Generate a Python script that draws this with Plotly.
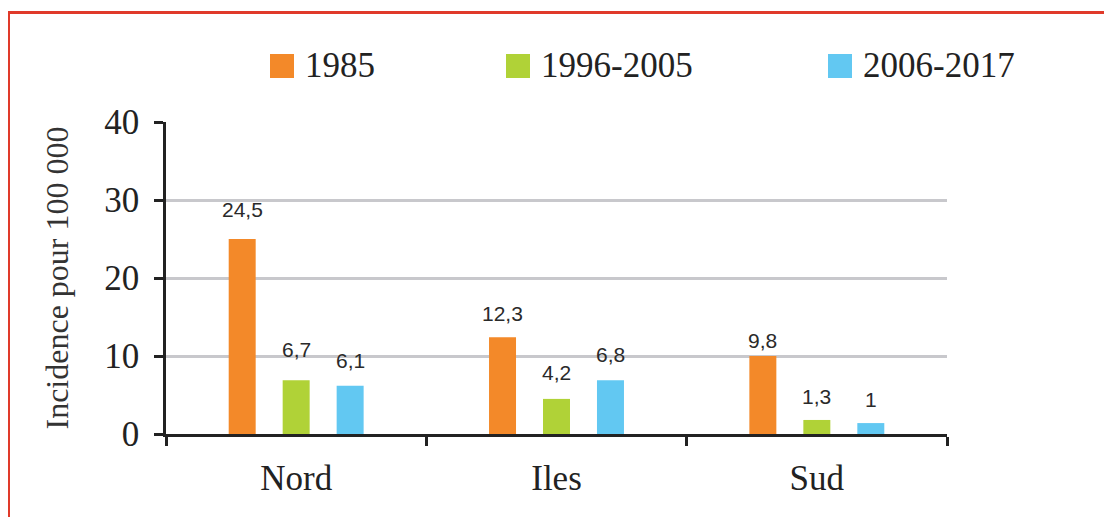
import plotly.graph_objects as go

# ---- data ----
categories = ["Nord", "Iles", "Sud"]
series_names = ["1985", "1996-2005", "2006-2017"]
values_1985 = [25.0, 12.4, 10.0]
values_1996_2005 = [6.9, 4.5, 1.8]
values_2006_2017 = [6.2, 6.9, 1.4]
labels_1985 = ["24,5", "12,3", "9,8"]
labels_1996_2005 = ["6,7", "4,2", "1,3"]
labels_2006_2017 = ["6,1", "6,8", "1"]
y_ticks = [0, 10, 20, 30, 40]

series_values = [values_1985, values_1996_2005, values_2006_2017]
series_labels = [labels_1985, labels_1996_2005, labels_2006_2017]

# ---- style ----
colors = ["#F38929", "#B0D237", "#62C8F2"]
label_xshift = [-54, 0, 54]
label_yshift = [[30, 24, 16], [31, 26, 23], [25, 26, 24]]
OFF = 8  # page body margin
W, H = 1112 - OFF, 517 - OFF
L, R, T, B = 166 - OFF, 947 - OFF, 122 - OFF, 434 - OFF
serif = "Liberation Serif"
sans = "Liberation Sans"


def px(x):
    # x given in screenshot pixels
    return (x - OFF - L) / (R - L)


def py(y):
    return (B - (y - OFF)) / (B - T)


fig = go.Figure()
for name, vals, col in zip(series_names, series_values, colors):
    fig.add_trace(go.Bar(name=name, x=categories, y=vals, marker_color=col,
                         marker_line_width=0, showlegend=False))

annotations = []
for si, (vals, labs) in enumerate(zip(series_values, series_labels)):
    for ci, (cat, v, lab) in enumerate(zip(categories, vals, labs)):
        annotations.append(dict(x=cat, y=v, xref="x", yref="y", text=lab,
                                showarrow=False, xshift=label_xshift[si],
                                yshift=label_yshift[si][ci], yanchor="middle",
                                font=dict(family=sans, size=21, color="#2a2a2a")))

# manual legend
legend_sq_x = [270, 506, 828]
shapes = []
for name, col, sx in zip(series_names, colors, legend_sq_x):
    shapes.append(dict(type="rect", xref="paper", yref="paper",
                       x0=px(sx), x1=px(sx + 24), y0=py(78), y1=py(54),
                       fillcolor=col, line=dict(width=0)))
    annotations.append(dict(x=px(sx + 33), y=py(66), xref="paper", yref="paper",
                            text=name, showarrow=False, xanchor="left",
                            yanchor="middle",
                            font=dict(family=serif, size=35, color="#222222")))

# red frame
shapes.append(dict(type="line", xref="paper", yref="paper",
                   x0=px(8.5), x1=px(8.5), y0=py(11), y1=py(530),
                   line=dict(color="#E03A2A", width=3)))
shapes.append(dict(type="line", xref="paper", yref="paper",
                   x0=px(7), x1=px(1125), y0=py(12.5), y1=py(12.5),
                   line=dict(color="#E03A2A", width=3)))

fig.update_layout(
    width=W, height=H,
    margin=dict(l=L, r=W - R, t=T, b=H - B, pad=0),
    paper_bgcolor="white", plot_bgcolor="white",
    barmode="group", bargap=0.378, bargroupgap=0.5,
    showlegend=False,
    annotations=annotations, shapes=shapes,
    xaxis=dict(showline=True, linecolor="#222222", linewidth=2.5,
               ticks="outside", tickson="boundaries", ticklen=9,
               tickwidth=2.5, tickcolor="#222222", showgrid=False,
               ticklabelstandoff=11,
               tickfont=dict(family=serif, size=35, color="#222222")),
    yaxis=dict(range=[0, 40], tickvals=y_ticks, showline=True,
               linecolor="#222222", linewidth=2.5, ticks="outside",
               ticklen=9, tickwidth=2.5, tickcolor="#222222",
               showgrid=True, gridcolor="#C8C8CC", gridwidth=2.5,
               zeroline=False, ticklabelstandoff=8,
               tickfont=dict(family=serif, size=35, color="#222222"),
               title=dict(text="Incidence pour 100 000", standoff=27,
                          font=dict(family=serif, size=32, color="#333333"))),
)

fig.write_html("out.html")
